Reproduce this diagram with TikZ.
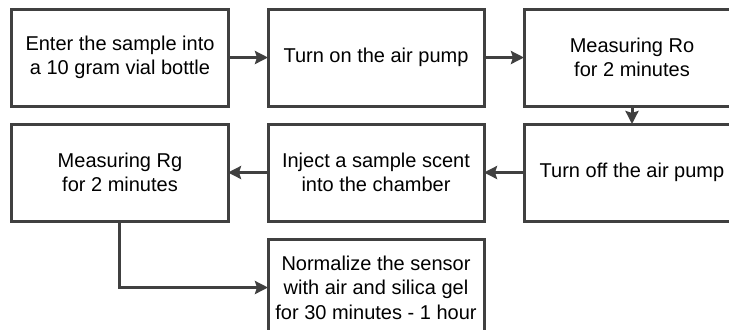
\documentclass[tikz,border=0pt]{standalone}
\usepackage{fontspec}
\setmainfont{Liberation Sans}
\usepackage{xcolor}
\usepackage{tikz}
\usetikzlibrary{arrows.meta, positioning}
\definecolor{linegray}{HTML}{404040}
\tikzset{stepbox/.style={rectangle,draw=linegray,line width=1.5pt,fill=white,align=center,minimum width=108pt,minimum height=48.5pt,inner sep=2pt,outer sep=0pt},
         arrow/.style={-{Stealth[length=6.5pt,width=6.5pt,inset=1pt]},line width=1.5pt,draw=linegray}}

\begin{document}
\begin{tikzpicture}[node distance=9pt and 20pt, font=\fontsize{10}{12.2}\selectfont]
    % Cropped frame
    \useasboundingbox (-60pt,28.75pt) rectangle (304.5pt,-135.75pt);
    \clip (-60pt,28.75pt) rectangle (304.5pt,-135.75pt);
    % First row
    \node (sample) [stepbox] {Enter the sample into\\a 10 gram vial bottle};
    \node (pumpon) [stepbox, right=of sample] {Turn on the air pump};
    \node (measro) [stepbox, right=of pumpon] {Measuring Ro\\for 2 minutes};
    % Second row
    \node (pumpoff) [stepbox, below=of measro] {Turn off the air pump};
    \node (inject) [stepbox, left=of pumpoff] {Inject a sample scent\\into the chamber};
    \node (measrg) [stepbox, left=of inject] {Measuring Rg\\for 2 minutes};
    % Third row
    \node (normalize) [stepbox, below=of inject] {Normalize the sensor\\with air and silica gel\\for 30 minutes - 1 hour};
    % Arrows
    \draw[arrow] (sample) -- (pumpon);
    \draw[arrow] (pumpon) -- (measro);
    \draw[arrow] (measro) -- (pumpoff);
    \draw[arrow] (pumpoff) -- (inject);
    \draw[arrow] (inject) -- (measrg);
    \draw[arrow] (measrg.south) |- (normalize.west);
\end{tikzpicture}
\end{document}
